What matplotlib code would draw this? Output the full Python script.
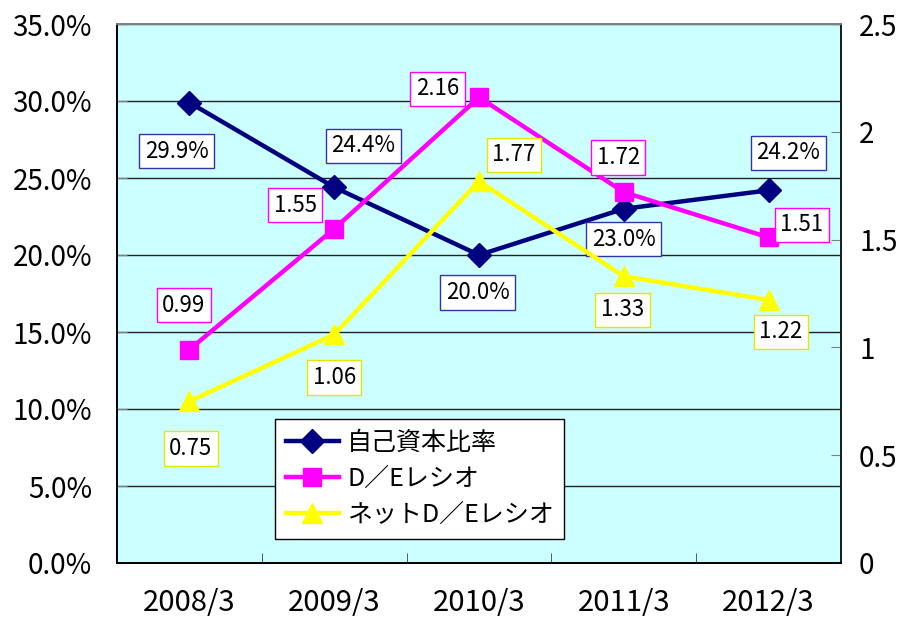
import matplotlib.pyplot as plt
from matplotlib.ticker import FixedLocator, FuncFormatter

plt.rcParams['font.family'] = ['Noto Sans CJK JP', 'DejaVu Sans']

# データ
years = ['2008/3', '2009/3', '2010/3', '2011/3', '2012/3']
equity_ratio = [29.9, 24.4, 20.0, 23.0, 24.2]   # 自己資本比率 (%)
de_ratio = [0.99, 1.55, 2.16, 1.72, 1.51]        # D／Eレシオ
net_de_ratio = [0.75, 1.06, 1.77, 1.33, 1.22]    # ネットD／Eレシオ

series_names = ['自己資本比率', 'D／Eレシオ', 'ネットD／Eレシオ']

# ラベルの位置 (offset points)
equity_offsets = [(-9, -35), (21, 30), (-1, -27), (0, -22), (14, 27)]
de_offsets = [(-4, 32), (-28, 17), (-30, 6), (-4, 25), (24, 9)]
net_offsets = [(1, -34), (0, -31), (25, 19), (-1, -24), (9, -23)]

navy = '#000080'
magenta = '#FF00FF'
yellow = '#FFFF00'

fig = plt.figure(figsize=(9.10, 6.21), dpi=100)
ax = fig.add_axes([117 / 910, 58 / 621, 724 / 910, 539 / 621])
ax2 = ax.twinx()

x = list(range(len(years)))

ax.set_facecolor('#CCFFFF')
ax.set_xlim(-0.5, len(years) - 0.5)
ax.set_ylim(0, 35)
ax2.set_ylim(0, 2.5)

ax.set_yticks([0, 5, 10, 15, 20, 25, 30, 35])
ax.yaxis.set_major_formatter(FuncFormatter(lambda v, p: f'{v:.1f}%'))
ax.grid(axis='y', color='#222222', linewidth=1)
ax.set_axisbelow(True)

ax2.set_yticks([0, 0.5, 1, 1.5, 2, 2.5])
ax2.set_yticklabels(['0', '0.5', '1', '1.5', '2', '2.5'])

ax.set_xticks(x)
ax.set_xticklabels(years)
ax.xaxis.set_minor_locator(FixedLocator([i + 0.5 for i in x[:-1]]))

ax.tick_params(axis='y', direction='in', length=7, color='#808080', labelsize=20, pad=18)
ax2.tick_params(axis='y', direction='in', length=7, color='#808080', labelsize=20, pad=13)
ax.tick_params(axis='x', which='major', length=0, labelsize=21, pad=18)
ax.tick_params(axis='x', which='minor', direction='in', length=7, color='#404040')

ax.spines['top'].set_color('#808080')
ax2.spines['top'].set_color('#808080')
ax.spines['left'].set_color('#404040')
ax2.spines['right'].set_color('#202020')
for a in (ax, ax2):
    for sp in a.spines.values():
        sp.set_linewidth(1.3)

l1, = ax.plot(x, equity_ratio, color=navy, linewidth=3.2, marker='D',
              markersize=12, label=series_names[0], zorder=3)
l2, = ax2.plot(x, de_ratio, color=magenta, linewidth=3.2, marker='s',
               markersize=13, label=series_names[1], zorder=3)
l3, = ax2.plot(x, net_de_ratio, color=yellow, linewidth=3.2, marker='^',
               markersize=15, label=series_names[2], zorder=3)


def add_labels(axis, values, offsets, fmt, edge):
    for xi, v, off in zip(x, values, offsets):
        axis.annotate(fmt(v), (xi, v), xytext=off, textcoords='offset points',
                      ha='center', va='center', fontsize=16, zorder=5,
                      bbox=dict(boxstyle='square,pad=0.25', facecolor='white',
                                edgecolor=edge, linewidth=1))


add_labels(ax, equity_ratio, equity_offsets, lambda v: f'{v:.1f}%', '#3333AA')
add_labels(ax2, de_ratio, de_offsets, lambda v: f'{v:.2f}', magenta)
add_labels(ax2, net_de_ratio, net_offsets, lambda v: f'{v:.2f}', '#E6E600')

leg = ax2.legend(handles=[l1, l2, l3], loc='lower left',
                 bbox_to_anchor=(0.218, 0.0445, 0.40, 0.213), mode='expand',
                 borderaxespad=0, fontsize=18, handlelength=2.1,
                 handletextpad=0.35, labelspacing=0.4, borderpad=0.45,
                 fancybox=False, framealpha=1, edgecolor='black')
leg.get_frame().set_linewidth(1)

fig.savefig('out.png', dpi=100)
